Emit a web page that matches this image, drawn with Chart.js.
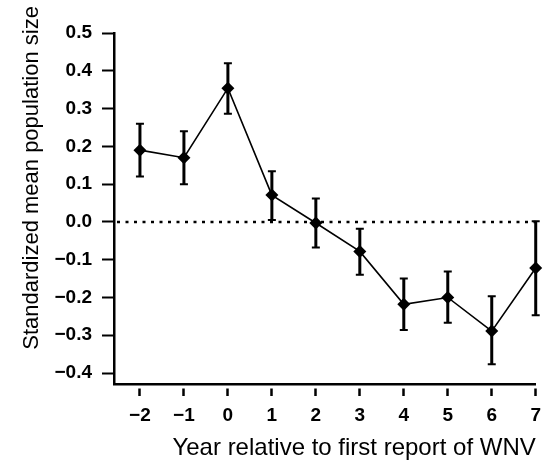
<!DOCTYPE html>
<html>
<head>
<meta charset="utf-8">
<script src="https://cdn.jsdelivr.net/npm/chart.js@4/dist/chart.umd.min.js"></script>
<style>
  html, body { margin: 0; padding: 0; background: #fff; }
  #wrap { width: 549px; height: 463px; }
</style>
</head>
<body>
<div id="wrap"><canvas id="chart"></canvas></div>
<script>
// Years relative to first WNV report
const years = [-2, -1, 0, 1, 2, 3, 4, 5, 6, 7];
// Standardized mean population size and error bar ends
const means = [0.19, 0.17, 0.354, 0.071, -0.003, -0.078, -0.218, -0.20, -0.289, -0.122];
const upper = [0.26, 0.24, 0.42, 0.134, 0.062, -0.018, -0.15, -0.131, -0.197, 0.002];
const lower = [0.12, 0.10, 0.286, 0.005, -0.068, -0.14, -0.286, -0.267, -0.377, -0.247];
// Tick labels
const yTicks = [-0.4, -0.3, -0.2, -0.1, 0.0, 0.1, 0.2, 0.3, 0.4, 0.5];
const xTicks = years;

const FONT = "'Liberation Sans', Arial, Helvetica, sans-serif";

function minus(s) {
  return String(s).replace("-", "\u2212");
}

// error bars, drawn from the scales
const errorBars = {
  id: "errorBars",
  afterDatasetsDraw(chart) {
    const { ctx, scales: { x, y } } = chart;
    ctx.save();
    ctx.strokeStyle = "#000";
    years.forEach((yr, i) => {
      const px = x.getPixelForValue(yr);
      const top = y.getPixelForValue(upper[i]);
      const bot = y.getPixelForValue(lower[i]);
      ctx.lineWidth = 3;
      ctx.beginPath();
      ctx.moveTo(px, top);
      ctx.lineTo(px, bot);
      ctx.stroke();
      ctx.lineWidth = 2;
      ctx.beginPath();
      ctx.moveTo(px - 4, top);
      ctx.lineTo(px + 4, top);
      ctx.moveTo(px - 4, bot);
      ctx.lineTo(px + 4, bot);
      ctx.stroke();
    });
    ctx.restore();
  }
};

// dotted reference line at zero
const zeroLine = {
  id: "zeroLine",
  beforeDatasetsDraw(chart) {
    const { ctx, chartArea, scales: { x, y } } = chart;
    const py = y.getPixelForValue(0);
    ctx.save();
    ctx.strokeStyle = "#000";
    ctx.lineWidth = 2.5;
    ctx.setLineDash([3, 5.5]);
    ctx.beginPath();
    ctx.moveTo(chartArea.left + 3, py);
    ctx.lineTo(x.getPixelForValue(years[years.length - 1]), py);
    ctx.stroke();
    ctx.restore();
  }
};

new Chart(document.getElementById("chart"), {
  type: "line",
  data: {
    datasets: [
      {
        data: years.map((yr, i) => ({ x: yr, y: means[i] })),
        borderColor: "#000",
        borderWidth: 1.6,
        backgroundColor: "#000",
        pointStyle: "rectRot",
        pointRadius: 6.5,
        pointBorderWidth: 0,
        pointBackgroundColor: "#000",
        tension: 0,
        clip: false
      }
    ]
  },
  options: {
    responsive: true,
    maintainAspectRatio: false,
    animation: false,
    layout: { padding: { top: 33, right: 12, left: 0, bottom: 0 } },
    plugins: {
      legend: { display: false },
      tooltip: { enabled: false }
    },
    scales: {
      x: {
        type: "linear",
        min: -2.59,
        max: 7,
        afterBuildTicks: (scale) => { scale.ticks = xTicks.map(v => ({ value: v })); },
        afterFit: (scale) => { scale.height = 79; },
        border: { display: true, color: "#000", width: 2.5 },
        grid: {
          drawOnChartArea: false,
          drawTicks: true,
          tickLength: 12,
          tickWidth: 2.5,
          tickColor: "#000",
          tickBorderDash: [9, 100],
          tickBorderDashOffset: -3
        },
        ticks: {
          color: "#000",
          font: { family: FONT, size: 19, weight: "bold" },
          padding: 8,
          maxRotation: 0,
          callback: (v) => minus(v)
        },
        title: {
          display: true,
          text: "Year relative to first report of WNV",
          color: "#000",
          align: "end",
          font: { family: FONT, size: 24 },
          padding: { top: 2, bottom: 0 }
        }
      },
      y: {
        min: -0.429,
        max: 0.5,
        afterBuildTicks: (scale) => { scale.ticks = yTicks.map(v => ({ value: v })); },
        afterFit: (scale) => { scale.width = 114; },
        border: { display: true, color: "#000", width: 2.5 },
        grid: {
          drawOnChartArea: false,
          drawTicks: true,
          tickLength: 12,
          tickWidth: 2,
          tickColor: "#000"
        },
        ticks: {
          color: "#000",
          font: { family: FONT, size: 19, weight: "bold" },
          padding: 10,
          callback: (v) => minus(v.toFixed(1))
        },
        title: {
          display: true,
          text: "          Standardized mean population size",
          color: "#000",
          font: { family: FONT, size: 22 },
          padding: { top: 19, bottom: 0 }
        }
      }
    }
  },
  plugins: [zeroLine, errorBars]
});
</script>
</body>
</html>
